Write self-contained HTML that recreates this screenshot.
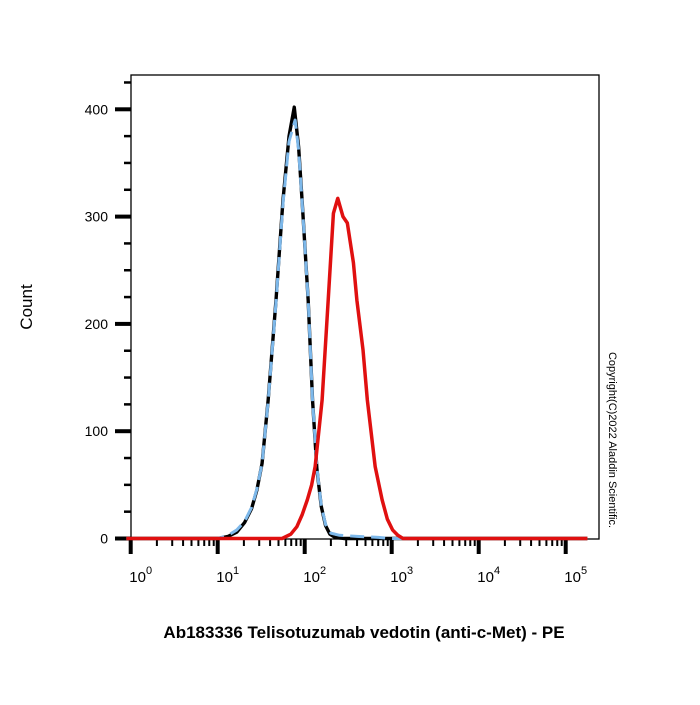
<!DOCTYPE html>
<html><head><meta charset="utf-8"><style>
body{margin:0;background:#fff;font-family:"Liberation Sans",Arial,sans-serif}
</style></head><body>
<svg id="chart" width="700" height="700" xmlns="http://www.w3.org/2000/svg" style="font-family:'Liberation Sans',Arial,sans-serif">
<rect x="0" y="0" width="700" height="700" fill="#fff"/>
<rect x="131" y="75" width="468" height="464" fill="none" stroke="#000" stroke-width="1.3"/>
<g id="axes"></g>
<g id="series"></g>
<text x="32" y="307" font-size="17" text-anchor="middle" transform="rotate(-90 32 307)">Count</text>
<text x="364" y="638" font-size="17" font-weight="bold" text-anchor="middle">Ab183336 Telisotuzumab vedotin (anti-c-Met) - PE</text>
<text x="609" y="440" font-size="11" transform="rotate(90 609 440)" text-anchor="middle">Copyright(C)2022 Aladdin Scientific.</text>
</svg>
<script>
const yTicks=[0,100,200,300,400];
const xDecades=[0,1,2,3,4,5];
const blackLog=[1.0,1.12,1.22,1.31,1.39,1.45,1.51,1.58,1.67,1.75,1.82,1.88,1.93,1.97,2.04,2.09,2.14,2.19,2.24,2.29,2.35,2.45];
const blackCount=[0,2,6,15,28,45,70,129,222,315,375,402,365,315,222,129,65,30,12,4,1,0];
const blueLog=[1.0,1.12,1.22,1.31,1.39,1.45,1.51,1.58,1.67,1.75,1.82,1.89,1.93,1.97,2.04,2.09,2.14,2.19,2.24,2.3,2.4,2.6,2.85,3.0];
const blueCount=[0,3,8,16,29,46,70,128,220,312,370,390,362,314,222,129,66,31,13,5,3,2,1,0];
const redLog=[1.74,1.84,1.91,1.97,2.03,2.08,2.12,2.20,2.27,2.33,2.38,2.44,2.49,2.56,2.60,2.67,2.72,2.81,2.89,2.95,3.01,3.07,3.13];
const redCount=[0,4,11,22,36,50,67,129,222,303,317,300,294,257,222,176,129,67,36,18,8,3,0];

const NS="http://www.w3.org/2000/svg";
const X=l=>130.7+87*l, Y=c=>538.5-1.073*c;
const axes=document.getElementById('axes'), ser=document.getElementById('series');
function mk(tag,attrs,parent){const e=document.createElementNS(NS,tag);for(const k in attrs)e.setAttribute(k,attrs[k]);parent.appendChild(e);return e;}
for(let v=0;v<=425;v+=25){
  const major=v%100===0;
  const t=mk('line',{x1:major?115:124,x2:131,y1:Y(v),y2:Y(v),stroke:'#000','stroke-width':major?4:2.5},axes);
  
  
}
yTicks.forEach(v=>{
  const t=mk('text',{x:108,y:Y(v)+5,'font-size':14,'text-anchor':'end'},axes);
  t.textContent=v;
  
  
});
for(let d=0;d<5;d++){
  for(let m=1;m<=9;m++){
    const l=d+Math.log10(m);
    const t=mk('line',{x1:X(l),x2:X(l),y1:539,y2:546,stroke:'#000','stroke-width':2},axes);
    
    
  }
}
xDecades.forEach(d=>{
  const t=mk('line',{x1:X(d),x2:X(d),y1:539,y2:554,stroke:'#000','stroke-width':4},axes);
  
  
  const tx=mk('text',{x:X(d)+10,y:582,'font-size':15,'text-anchor':'middle'},axes);
  tx.innerHTML='10<tspan dy="-8" font-size="11">'+d+'</tspan>';
  
  
});
function path(ls,cs,stroke,dash,w,name){
  let d='M'+X(-0.05)+','+Y(0)+' L'+X(ls[0])+','+Y(cs[0]);
  for(let i=1;i<ls.length;i++)d+=' L'+X(ls[i])+','+Y(cs[i]);
  d+=' L'+X(5.25)+','+Y(0);
  const p=mk('path',{d:d,fill:'none',stroke:stroke,'stroke-width':w,'stroke-linejoin':'round'},ser);
  if(dash)p.setAttribute('stroke-dasharray',dash);
  
  
}
path(blackLog,blackCount,'#000',null,3.4,'black-control-curve');
path(blueLog,blueCount,'#7db8ea','14 7',3,'blue-isotype-curve');
path(redLog,redCount,'#e01010',null,3.5,'red-sample-curve');
</script>
</body></html>
